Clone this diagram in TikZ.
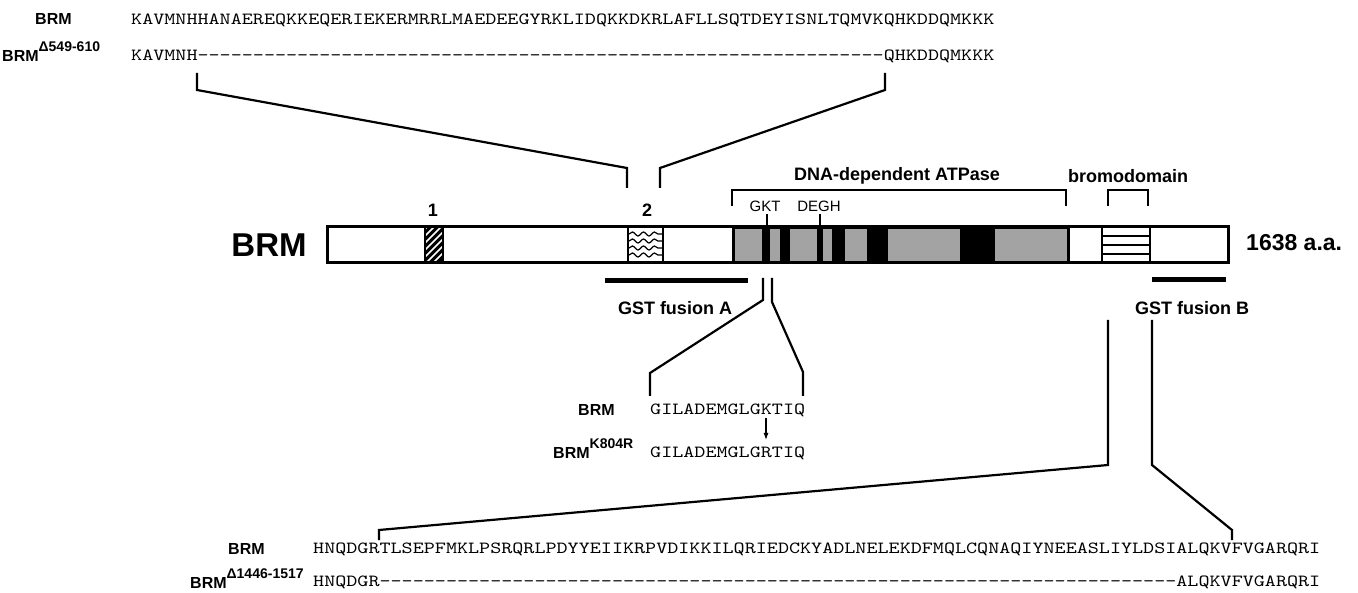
\documentclass[tikz,border=0pt]{standalone}
\usepackage{fontspec}
\setmainfont{Liberation Sans}
\newfontfamily\seqfont[Ligatures=TeXOff]{lmmono10-regular.otf}
\usetikzlibrary{arrows.meta,decorations.pathmorphing}
\newcommand\sqtext[1]{\scalebox{1.24}[1]{\seqfont\fontsize{17}{17}\selectfont #1}}
\newcommand\sups[1]{\raisebox{10pt}{\fontsize{14}{14}\selectfont #1}}
\begin{document}
\begin{tikzpicture}[x=1pt,y=-1pt,
  lbl/.style={font=\fontsize{16}{16}\selectfont\bfseries, inner sep=0, anchor=base west},
  toplbl/.style={font=\fontsize{18}{18}\selectfont\bfseries, inner sep=0},
  small/.style={font=\fontsize{15}{15}\selectfont, inner sep=0},
  seq/.style={inner sep=0, anchor=base west},
  conn/.style={line width=2.2pt, line join=miter},
  gstbar/.style={line width=5pt},
  divider/.style={line width=2.5pt},
  graybox/.style={fill=black!36}]
\useasboundingbox (0,0) rectangle (1358,593);
\fill[white] (0,0) rectangle (1358,593);

% ---------- top sequences
\node[lbl] (brmA) at (35,25) {BRM};
\node[seq] (seqA) at (131,25) {\sqtext{KAVMNHHANAEREQKKEQERIEKERMRRLMAEDEEGYRKLIDQKKDKRLAFLLSQTDEYISNLTQMVKQHKDDQMKKK}};
\node[lbl] (brmB) at (2,62) {BRM\sups{Δ549-610}};
\node[seq] (seqB) at (131,61) {\sqtext{KAVMNH--------------------------------------------------------------QHKDDQMKKK}};

% ---------- bar
\fill[black] (733,227) rectangle (1070,263);
\foreach \a/\b in {735/762,770/780,790/817,823/832,845/867,888/960,995/1067}
  \fill[graybox] (\a,229) rectangle (\b,261);
\fill[black] (425,227) rectangle (443,263);
\begin{scope}
  \clip (426,228) rectangle (442,262);
  \foreach \s in {0,7,...,56}
    \draw[white, line width=1.6pt] (420,262-\s+14) -- (448,262-\s-14);
\end{scope}
\foreach \yy in {234,241,248,255}
  \draw[line width=1.2pt, decorate, decoration={snake, amplitude=2pt, segment length=11pt}] (629,\yy) -- (662,\yy);
\foreach \yy in {236,245,254}
  \draw[line width=1.6pt] (1102,\yy) -- (1150,\yy);
\foreach \xx in {425,443,628,663,733,1069,1102,1150}
  \draw[divider] (\xx,227) -- (\xx,263);
\draw[line width=3pt] (327,227) rectangle (1228,263);

\node[font=\fontsize{33}{33}\selectfont\bfseries, inner sep=0] (bigbrm) at (269,245) {BRM};
\node[font=\fontsize{23}{23}\selectfont\bfseries, inner sep=0, anchor=west] (len) at (1246,243) {1638 a.a.};

% ---------- labels above bar
\node[toplbl] (one) at (433,210) {1};
\node[toplbl] (two) at (647,210) {2};
\node[small] (gkt) at (765,206) {GKT};
\node[small] (degh) at (819,206) {DEGH};
\draw[line width=1.2pt] (767,214) -- (767,227);
\draw[line width=1.2pt] (820,214) -- (820,227);
\node[toplbl] (atpase) at (897,176) {DNA-dependent ATPase};
\node[toplbl] (bromo) at (1128,176) {bromodomain};
\draw[line width=1.8pt] (732,206) -- (732,190) -- (1066,190) -- (1066,206);
\draw[line width=1.8pt] (1108,206) -- (1108,190) -- (1148,190) -- (1148,206);

% ---------- connectors top
\coordinate (t1) at (197,73); \coordinate (t2) at (197,90);
\coordinate (t3) at (627,168); \coordinate (t4) at (627,188);
\draw[conn] (t1) -- (t2) -- (t3) -- (t4);
\coordinate (u1) at (885,73); \coordinate (u2) at (885,90);
\coordinate (u3) at (660,168); \coordinate (u4) at (660,188);
\draw[conn] (u1) -- (u2) -- (u3) -- (u4);

% ---------- GST fusions
\draw[gstbar] (605,281) -- (748,281);
\node[toplbl] (gstA) at (675,308) {GST fusion A};
\draw[gstbar] (1152,280) -- (1226,280);
\node[toplbl] (gstB) at (1192,308) {GST fusion B};

% ---------- K804R
\coordinate (k1) at (763,278); \coordinate (k2) at (763,300);
\coordinate (k3) at (650,373); \coordinate (k4) at (650,396);
\draw[conn] (k1) -- (k2) -- (k3) -- (k4);
\coordinate (m1) at (772,278); \coordinate (m2) at (772,302);
\coordinate (m3) at (803,372); \coordinate (m4) at (803,396);
\draw[conn] (m1) -- (m2) -- (m3) -- (m4);
\node[lbl] (brmC) at (578,416) {BRM};
\node[seq] (seqC) at (650,415) {\sqtext{GILADEMGLGKTIQ}};
\node[lbl] (brmD) at (553,459) {BRM\sups{K804R}};
\node[seq] (seqD) at (650,457) {\sqtext{GILADEMGLGRTIQ}};
\coordinate (a1) at (766,418); \coordinate (a2) at (766,440);
\draw[line width=1.2pt, -{Latex[length=7pt,width=5pt]}] (a1) -- (a2);

% ---------- bromodomain deletion
\coordinate (b1) at (1108,320); \coordinate (b2) at (1108,465);
\coordinate (b3) at (379,530); \coordinate (b4) at (379,540);
\draw[conn] (b1) -- (b2) -- (b3) -- (b4);
\coordinate (c1) at (1152,320); \coordinate (c2) at (1152,465);
\coordinate (c3) at (1232,530); \coordinate (c4) at (1232,540);
\draw[conn] (c1) -- (c2) -- (c3) -- (c4);
\node[lbl] (brmE) at (228,554) {BRM};
\node[seq] (seqE) at (313,553) {\sqtext{HNQDGRTLSEPFMKLPSRQRLPDYYEIIKRPVDIKKILQRIEDCKYADLNELEKDFMQLCQNAQIYNEEASLIYLDSIALQKVFVGARQRI}};
\node[lbl] (brmF) at (190,588) {BRM\sups{Δ1446-1517}};
\node[seq] (seqF) at (313,586) {\sqtext{HNQDGR------------------------------------------------------------------------ALQKVFVGARQRI}};
\end{tikzpicture}
\end{document}
